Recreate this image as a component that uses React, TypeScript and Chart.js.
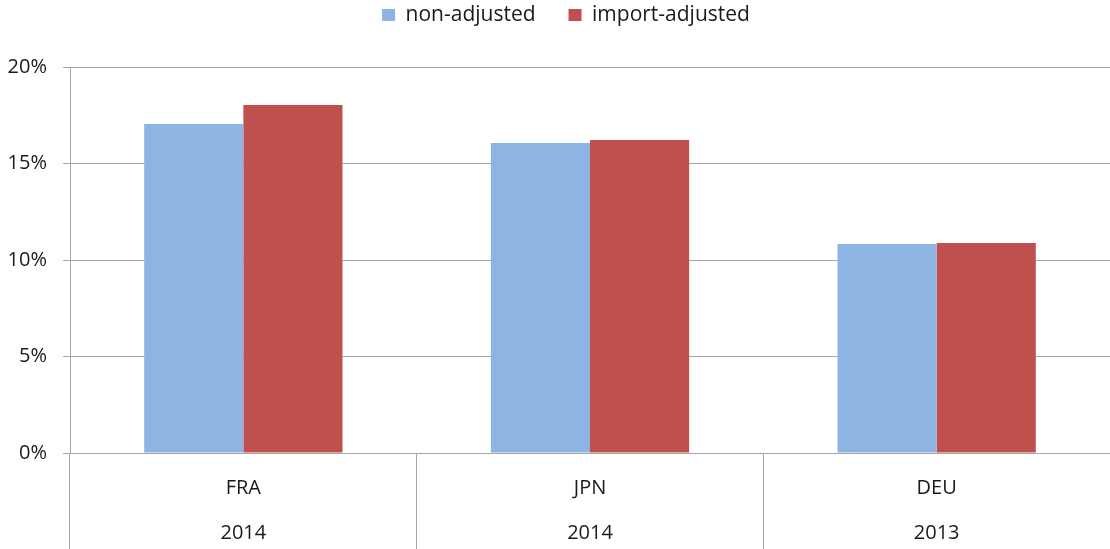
import React, { useEffect, useRef } from "react";
import { Chart, registerables } from "chart.js";

Chart.register(...registerables);

const countries = ["FRA", "JPN", "DEU"];
const years = ["2014", "2014", "2013"];
const nonAdjusted = [17.05, 16.06, 10.83];
const importAdjusted = [18.03, 16.22, 10.88];
const yTicks = [0, 5, 10, 15, 20];

const FONT = "'Open Sans', Lato, sans-serif";
const GRID = "#a6a6a6";
const TEXT = "#1a1a1a";
const LEGEND_HEIGHT = 67;
const LEGEND_PAD = 33;
const LEGEND_TEXT_Y = 15;
const LEGEND_SHIFT_X = 11;

const legendTweak = {
  id: "legendTweak",
  beforeUpdate(chart: any) {
    const lg = chart.legend;
    if (lg && !lg.__patched) {
      const orig = lg.fit.bind(lg);
      lg.fit = function () {
        orig();
        this.height = LEGEND_HEIGHT;
      };
      lg.__patched = true;
    }
  },
  afterLayout(chart: any) {
    const lg = chart.legend;
    if (!lg) return;
    const itemH = 21;
    const dy = lg.top + LEGEND_PAD + itemH / 2 - LEGEND_TEXT_Y;
    lg.top -= dy;
    lg.bottom -= dy;
    lg.left += LEGEND_SHIFT_X;
    lg.right += LEGEND_SHIFT_X;
  },
};

export default function App() {
  const ref = useRef<HTMLCanvasElement | null>(null);
  useEffect(() => {
    document.body.style.margin = "0";
    const ctx = ref.current!.getContext("2d")!;
    const chart = new Chart(ctx, {
      type: "bar",
      data: {
        labels: countries.map((c, i) => [c, years[i]]),
        datasets: [
          {
            label: "non-adjusted",
            data: nonAdjusted,
            backgroundColor: "#8eb4e3",
            borderWidth: 0,
            categoryPercentage: 0.572,
            barPercentage: 1,
          },
          {
            label: "import-adjusted",
            data: importAdjusted,
            backgroundColor: "#c0504d",
            borderWidth: 0,
            categoryPercentage: 0.572,
            barPercentage: 1,
          },
        ],
      },
      plugins: [legendTweak],
      options: {
        animation: false,
        responsive: false,
        maintainAspectRatio: false,
        layout: { padding: { top: 0, right: 0, bottom: 0, left: 0 } },
        plugins: {
          tooltip: { enabled: false },
          legend: {
            position: "top",
            labels: {
              boxWidth: 13,
              boxHeight: 12,
              padding: LEGEND_PAD,
              color: TEXT,
              font: { family: FONT, size: 21 },
            },
          },
        },
        scales: {
          x: {
            offset: true,
            grid: {
              offset: true,
              drawOnChartArea: false,
              tickLength: 96,
              color: GRID,
              lineWidth: 1,
            },
            border: { display: true, color: GRID },
            ticks: {
              color: TEXT,
              padding: -83.5,
              maxRotation: 0,
              font: { family: FONT, size: 20, lineHeight: 45 / 20 },
            },
            afterFit: (s: any) => {
              s.height = 96;
            },
          },
          y: {
            min: 0,
            max: 20,
            afterBuildTicks: (s: any) => {
              s.ticks = yTicks.map((v) => ({ value: v }));
            },
            grid: { color: GRID, tickLength: 7, lineWidth: 1 },
            border: { display: true, color: GRID },
            ticks: {
              color: TEXT,
              padding: 16,
              font: { family: FONT, size: 20 },
              callback: (v: any) => v + "%",
            },
            afterFit: (s: any) => {
              s.width = 70;
            },
          },
        },
      },
    });
    return () => chart.destroy();
  }, []);
  return (
    <div style={{ position: "fixed", left: 0, top: 0, width: 1110, height: 549 }}>
      <canvas ref={ref} width={1110} height={549} style={{ width: 1110, height: 549 }} />
    </div>
  );
}
